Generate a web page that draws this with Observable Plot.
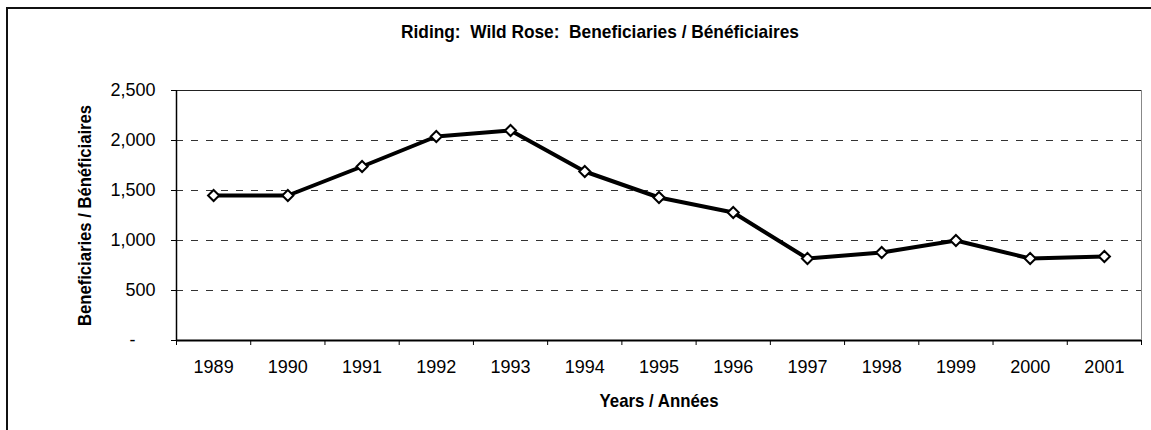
<!DOCTYPE html>
<html>
<head>
<meta charset="utf-8">
<script src="https://cdn.jsdelivr.net/npm/d3@7"></script>
<script src="https://cdn.jsdelivr.net/npm/@observablehq/plot@0.6"></script>
<style>
  html, body { margin: 0; padding: 0; background: #fff; }
  #wrap { position: relative; width: 1151px; height: 430px; overflow: hidden; background: #fff; }
  #frame { position: absolute; left: 6px; top: 7px; width: 1300px; height: 600px; border: 2px solid #111; pointer-events: none; }
  #chart { position: absolute; left: 0; top: 0; }
</style>
</head>
<body>
<div id="wrap"><div id="chart"></div><div id="frame"></div></div>
<script>
const titleText = "Riding:  Wild Rose:  Beneficiaries / Bénéficiaires";
const xLabel = "Years / Années";
const yLabel = "Beneficiaries / Bénéficiaires";
const years = [1989, 1990, 1991, 1992, 1993, 1994, 1995, 1996, 1997, 1998, 1999, 2000, 2001];
const beneficiaries = [1450, 1450, 1740, 2040, 2100, 1690, 1430, 1280, 820, 880, 1000, 820, 840];
const yTicks = [0, 500, 1000, 1500, 2000, 2500];
const gridValues = [500, 1000, 1500, 2000];

const data = years.map((y, i) => ({year: y, value: beneficiaries[i]}));
const boundaries = [...years.map(y => y - 0.5), years[years.length - 1] + 0.5];
const xMin = boundaries[0], xMax = boundaries[boundaries.length - 1];

const boldFont = "'Liberation Sans', Arial, sans-serif";

const plot = Plot.plot({
  width: 1151,
  height: 430,
  marginLeft: 176,
  marginRight: 10,
  marginTop: 90,
  marginBottom: 90,
  style: {fontFamily: "'Liberation Sans', Arial, sans-serif", fontSize: "18px", color: "#000", background: "transparent", overflow: "visible"},
  x: {domain: [xMin, xMax], axis: null},
  y: {domain: [0, 2500], axis: null},
  marks: [
    Plot.ruleY(gridValues, {stroke: "#333", strokeWidth: 1, strokeDasharray: "7,8"}),
    Plot.ruleY([2500], {stroke: "#222", strokeWidth: 1}),
    Plot.ruleX([xMax], {stroke: "#888", strokeWidth: 1}),
    Plot.axisY({ticks: yTicks, tickSize: 5, tickPadding: 16, tickFormat: d => d === 0 ? "-\u2007\u2007" : d3.format(",")(d), label: null, fontSize: 18, stroke: "#000"}),
    Plot.axisX({ticks: years, tickSize: 0, tickPadding: 20, tickFormat: d => String(d), label: null, fontSize: 18}),
    Plot.axisX({ticks: boundaries, tickSize: 5, tickFormat: () => "", label: null, stroke: "#000"}),
    Plot.ruleY([0], {stroke: "#000", strokeWidth: 2}),
    Plot.ruleX([xMin], {stroke: "#000", strokeWidth: 1.5}),
    Plot.line(data, {x: "year", y: "value", stroke: "#000", strokeWidth: 4, strokeLinejoin: "round"}),
    Plot.dot(data, {x: "year", y: "value", symbol: "diamond2", r: 5, fill: "#fff", stroke: "#000", strokeWidth: 2}),
    Plot.text([yLabel], {frameAnchor: "left", rotate: -90, dx: -92, textAnchor: "middle", lineAnchor: "middle", fontWeight: "bold", fontSize: 19, fontFamily: boldFont, fill: "#000"}),
    Plot.text([xLabel], {frameAnchor: "bottom", dy: 60, textAnchor: "middle", lineAnchor: "middle", fontWeight: "bold", fontSize: 19, fontFamily: boldFont, fill: "#000"}),
    Plot.text([titleText], {frameAnchor: "top", dx: -59, dy: -59, textAnchor: "middle", lineAnchor: "middle", fontWeight: "bold", fontSize: 19, fontFamily: boldFont, fill: "#000"})
  ]
});
const lengths = {[titleText]: 398, [xLabel]: 119, [yLabel]: 221};
plot.querySelectorAll("text").forEach(t => {
  t.setAttribute("xml:space", "preserve");
  const L = lengths[t.textContent];
  if (L) { t.setAttribute("textLength", L); t.setAttribute("lengthAdjust", "spacingAndGlyphs"); }
});
document.getElementById("chart").appendChild(plot);
</script>
</body>
</html>
